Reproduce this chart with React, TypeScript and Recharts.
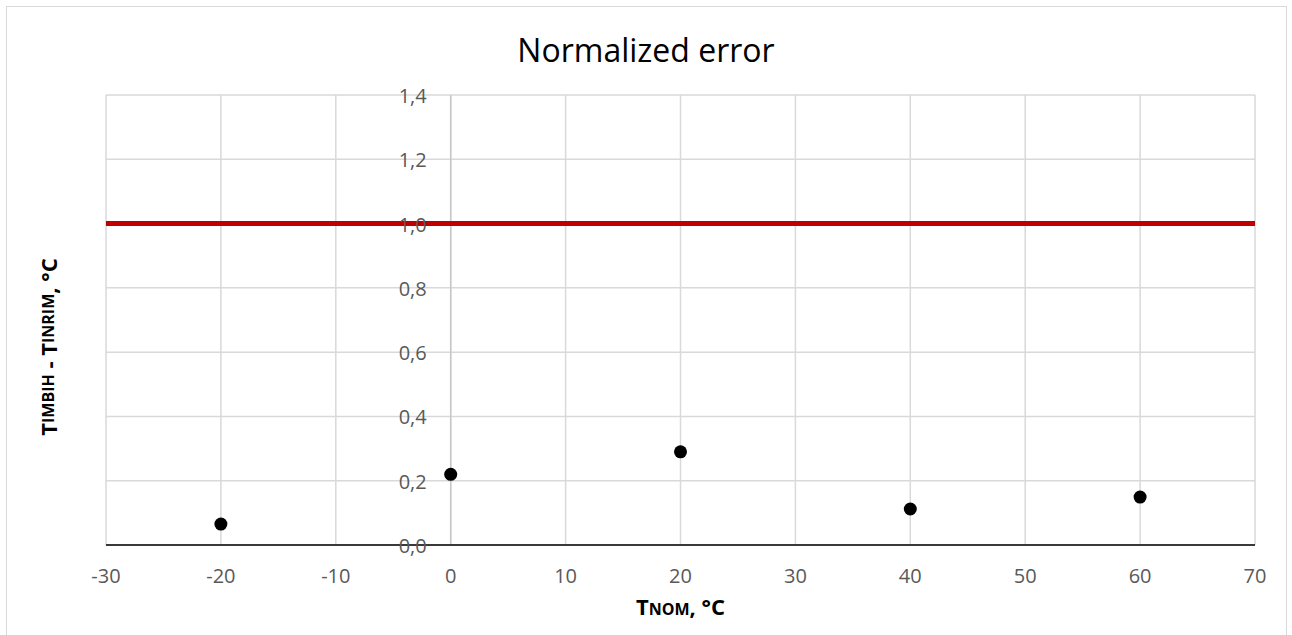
import { ScatterChart, Scatter, XAxis, YAxis, CartesianGrid, ReferenceLine, Label } from 'recharts'

// Nominal temperature, °C
const tNom = [-20, 0, 20, 40, 60]
// Normalized error values
const normError = [0.065, 0.22, 0.29, 0.112, 0.149]
// Acceptance limit
const limit = 1.0

const xTicks = [-30, -20, -10, 0, 10, 20, 30, 40, 50, 60, 70]
const yTicks = [0, 0.2, 0.4, 0.6, 0.8, 1.0, 1.2, 1.4]

const W = 1292
const H = 635
const margin = { top: 95, right: 37, bottom: 0, left: 6 }
const yAxisWidth = 100
const xAxisHeight = 90
const FONT = '"Open Sans", sans-serif'

const plotLeft = margin.left + yAxisWidth
const plotWidth = W - plotLeft - margin.right
const xMin = xTicks[0]
const xMax = xTicks[xTicks.length - 1]
// the y axis labels sit next to x = 0, as in the original
const zeroX = plotLeft + ((0 - xMin) / (xMax - xMin)) * plotWidth

const data = tNom.map((t, i) => ({ t, err: normError[i] }))

const YTick = (props: any) => {
  const { y, payload } = props
  return (
    <text x={zeroX - 24} y={y} dy={8} textAnchor="end" fill="#595959" fontSize={20} fontFamily={FONT}>
      {payload.value.toFixed(1).replace('.', ',')}
    </text>
  )
}

const YTitle = (props: any) => {
  const vb = props.viewBox
  const cx = 48
  // Excel puts the title a bit lower than the plot centre
  const cy = vb.y + vb.height / 2 + 27
  return (
    <text
      x={cx}
      y={cy}
      transform={`rotate(-90, ${cx}, ${cy})`}
      textAnchor="middle"
      dominantBaseline="central"
      fontFamily={FONT}
      fontWeight="bold"
      fontSize={22}
      fill="#000"
    >
      <tspan>T</tspan>
      <tspan fontSize={16}>IMBIH</tspan>
      <tspan> - T</tspan>
      <tspan fontSize={16}>INRIM</tspan>
      <tspan>, °C</tspan>
    </text>
  )
}

const XTitle = (props: any) => {
  const vb = props.viewBox
  const cx = vb.x + vb.width / 2
  return (
    <text x={cx} y={615} textAnchor="middle" fontFamily={FONT} fontWeight="bold" fontSize={22} fill="#000">
      <tspan>T</tspan>
      <tspan fontSize={16}>NOM</tspan>
      <tspan>, °C</tspan>
    </text>
  )
}

const Dot = (props: any) => <circle cx={props.cx} cy={props.cy} r={6.5} fill="#000" />

export default function App() {
  return (
    <div style={{ position: 'absolute', left: 0, top: 0, width: W, height: H, overflow: 'hidden', background: '#fff' }}>
      <div
        style={{
          position: 'absolute',
          left: 6,
          top: 6,
          right: 5,
          bottom: -10,
          border: '1px solid #d9d9d9',
        }}
      />
      <div
        style={{
          position: 'absolute',
          left: 0,
          width: W,
          top: 28,
          textAlign: 'center',
          fontFamily: FONT,
          fontSize: 32,
          color: '#000',
        }}
      >
        Normalized error
      </div>
      <div style={{ position: 'absolute', left: 0, top: 0 }}>
        <ScatterChart width={W} height={H} margin={margin}>
          <CartesianGrid stroke="#d9d9d9" strokeWidth={1.5} />
          <XAxis
            type="number"
            dataKey="t"
            domain={[xMin, xMax]}
            ticks={xTicks}
            allowDataOverflow
            height={xAxisHeight}
            tickLine={false}
            axisLine={{ stroke: '#000', strokeWidth: 1.5 }}
            tick={{ fill: '#595959', fontSize: 20, fontFamily: FONT }}
            tickMargin={18}
          >
            <Label content={<XTitle />} />
          </XAxis>
          <YAxis
            type="number"
            dataKey="err"
            domain={[0, 1.4]}
            ticks={yTicks}
            width={yAxisWidth}
            axisLine={false}
            tickLine={false}
            tick={<YTick />}
          >
            <Label content={<YTitle />} />
          </YAxis>
          <ReferenceLine x={0} stroke="#c8c8c8" strokeWidth={1.5} />
          <ReferenceLine y={limit} stroke="#c00000" strokeWidth={5} />
          <Scatter data={data} fill="#000" shape={<Dot />} isAnimationActive={false} />
        </ScatterChart>
      </div>
    </div>
  )
}
